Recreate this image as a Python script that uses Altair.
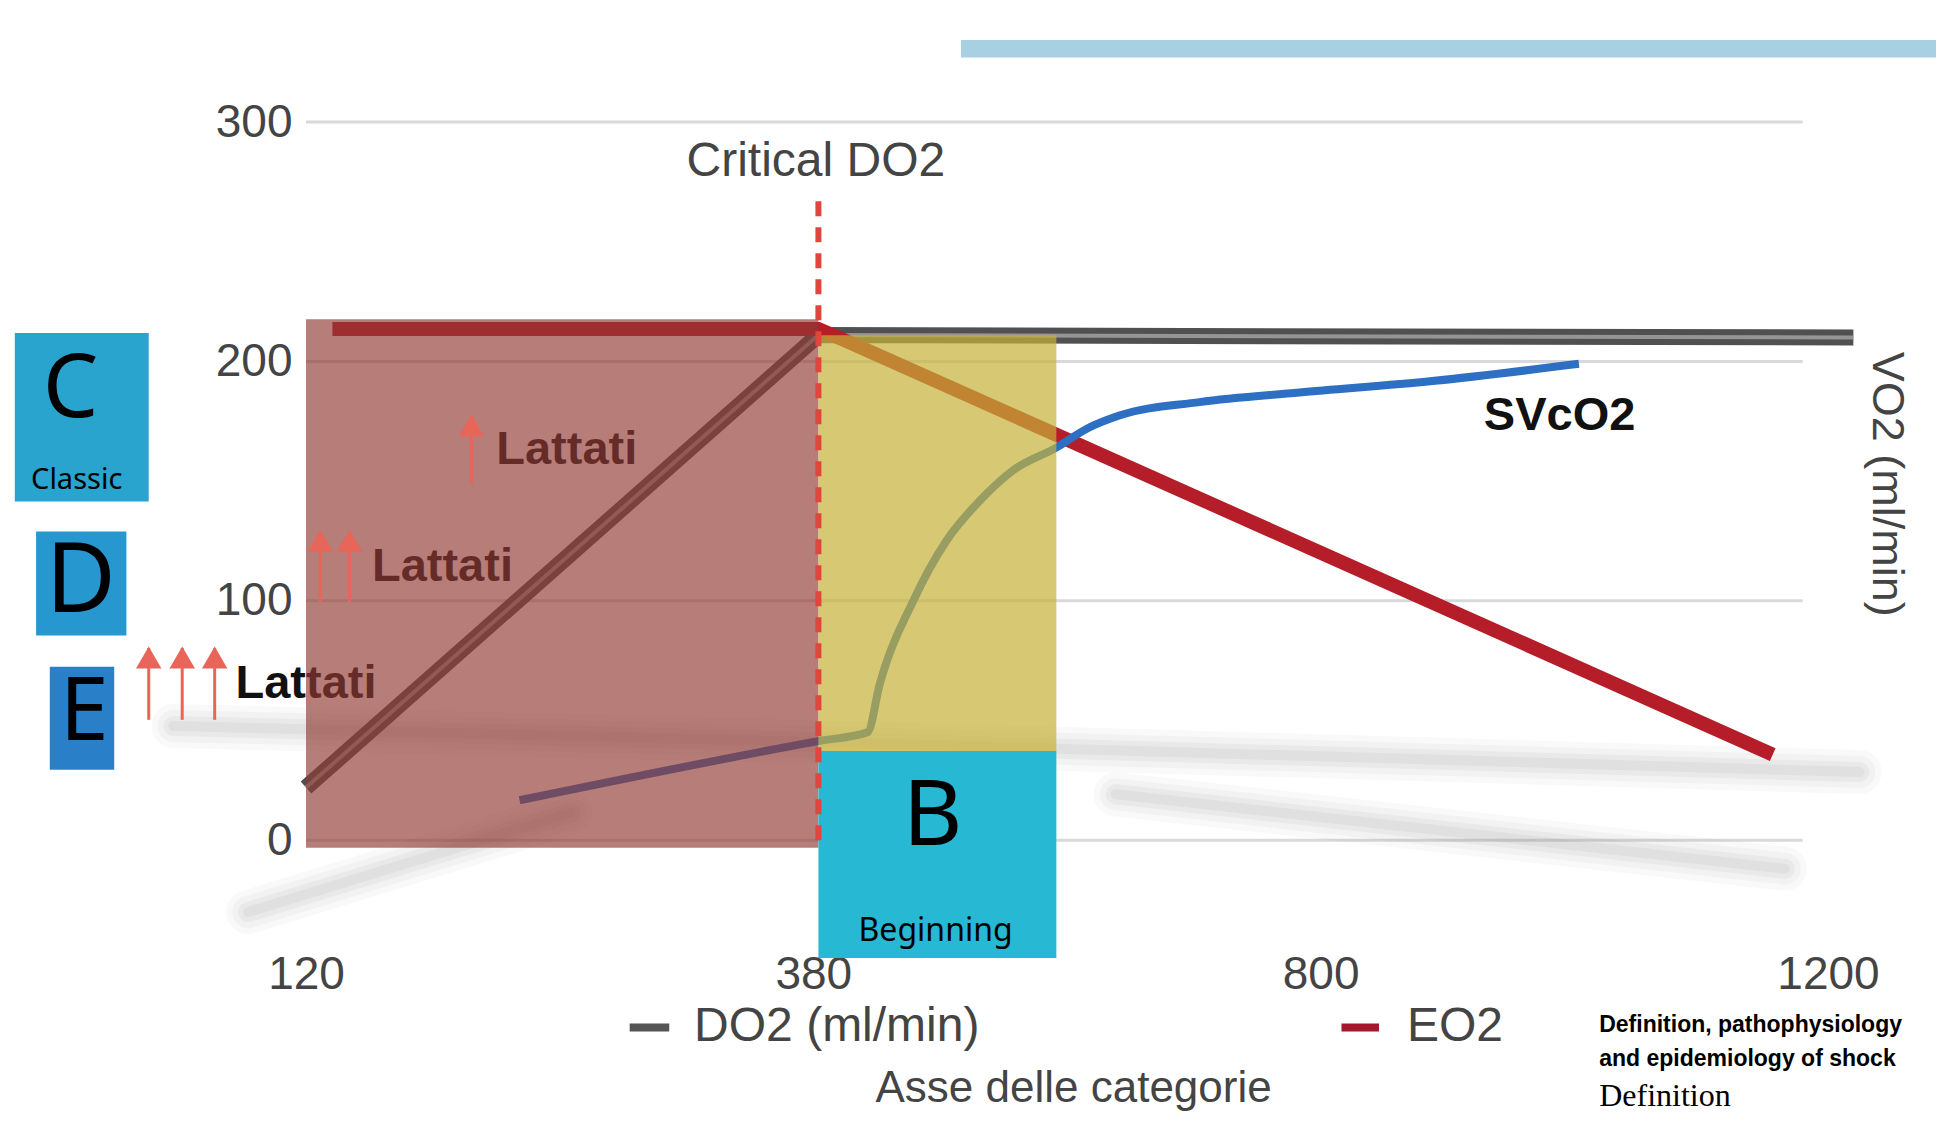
import altair as alt
import pandas as pd

# ---------------- data ----------------
# x positions are category indices; the axis shows the category values
x_categories = ["120", "380", "800", "1200"]
x_index = [0, 1, 2, 3]
y_ticks = [0, 100, 200, 300]

# DO2 (grey) line
do2_x = [0.0, 1.01, 3.05]
do2_y = [22, 211, 210]

# EO2 (red) line
eo2_x = [0.052, 1.01, 1.06, 2.891]
eo2_y = [213.5, 213.5, 209, 35.8]

# SvcO2 (blue) curve
svo2_x = [0.421, 1.012, 1.107, 1.131, 1.197, 1.262, 1.328, 1.393, 1.479,
          1.54, 1.603, 1.761, 1.958, 2.22, 2.509]
svo2_y = [16.7, 41.5, 45.1, 65.3, 100, 125, 141.8, 154.4, 164,
          172, 177.4, 183, 187, 191.8, 199]

# soft shadows (3D picture)
shadow_seg = ["a", "a", "a", "b", "b", "c", "c"]
shadow_x = [-0.261, 1.2, 3.062, 1.596, 2.915, -0.114, 0.521]
shadow_y = [47.7, 40, 28.5, 19.2, -11.9, -30, 11.4]

# critical DO2
critical_x = 1.01
critical_top = 268

# shaded phases
pink_x = [0.0, 1.01]
pink_y = [-3.1, 217.6]
yellow_x = [1.01, 1.479]
yellow_y = [37.3, 210.9]

# label boxes
box_names = ["C", "D", "E", "B"]
box_x1 = [-0.574, -0.532, -0.505, 1.01]
box_x2 = [-0.310, -0.354, -0.378, 1.479]
box_y1 = [141.5, 85.5, 29.5, -49.2]
box_y2 = [211.9, 129, 72.5, 37.3]
box_colors = ["#28a4cf", "#2698cf", "#2a7fc9", "#27b8d3"]
box_letter_x = [-0.464, -0.444, -0.437, 1.235]
box_letter_y = [187.6, 107.3, 52.8, 9.8]
box_sub = ["Classic", "Beginning"]
box_sub_x = [-0.452, 1.241]
box_sub_y = [150.3, -37.8]

# lactate annotations
lattati_x = [0.375, 0.130, -0.139]
lattati_y = [163.2, 114, 65.3]
arrow_x = [0.326, 0.028, 0.086, -0.310, -0.244, -0.180]
arrow_bottom = [148.7, 99.5, 99.5, 50.3, 50.3, 50.3]
arrow_top = [177.2, 129, 129, 80.3, 80.3, 80.3]

# top decorative bar of the slide
bar_x = [1.291, 3.25]
bar_y = [326.9, 334.2]

# legend
legend_labels = ["DO2 (ml/min)", "EO2"]
legend_colors = ["#555555", "#a3182c"]
legend_key_x1 = [0.638, 2.041]
legend_key_x2 = [0.716, 2.115]
legend_text_x = [0.765, 2.170]
legend_y = -78.2

# ---------------- scales / axes ----------------
W, H = 1522, 826
xscale = alt.Scale(domain=[0, 3], nice=False, zero=False)
yscale = alt.Scale(domain=[-45, 300], nice=False, zero=False)
label_expr = "[" + ",".join("'%s'" % c for c in x_categories) + "][datum.value]"
xaxis = alt.Axis(values=x_index, labelExpr=label_expr, domain=False, ticks=False,
                 grid=False, labelFontSize=46, labelColor="#444444",
                 labelFont="Liberation Sans", labelPadding=4, labelFlush=False)
yaxis = alt.Axis(values=y_ticks, domain=False, ticks=False, grid=False,
                 labelFontSize=46, labelColor="#444444", labelFont="Liberation Sans",
                 labelPadding=14)
X = alt.X("x:Q", scale=xscale, axis=xaxis, title="")
Y = alt.Y("y:Q", scale=yscale, axis=yaxis, title="")

FONT = "Liberation Sans"
BOXFONT = "Noto Sans"

# ---------------- layers ----------------
shadow_df = pd.DataFrame({"x": shadow_x, "y": shadow_y, "seg": shadow_seg})
shadow_layers = [
    alt.Chart(shadow_df).mark_line(color="#808080", opacity=op, strokeWidth=sw,
                                   strokeCap="round", strokeJoin="round",
                                   interpolate="monotone").encode(x=X, y=Y, detail="seg:N")
    for sw, op in [(44, 0.05), (32, 0.06), (20, 0.08), (10, 0.08)]
]

grid_df = pd.DataFrame({"y": y_ticks, "x": [0] * 4, "x2": [2.95] * 4})
grid = alt.Chart(grid_df).mark_rule(color="#d9d9d9", strokeWidth=3).encode(
    x=X, x2="x2:Q", y=Y)

bar_df = pd.DataFrame({"x": [bar_x[0]], "x2": [bar_x[1]], "y": [bar_y[0]], "y2": [bar_y[1]]})
topbar = alt.Chart(bar_df).mark_rect(color="#a9cfe2").encode(x=X, x2="x2:Q", y=Y, y2="y2:Q")

do2_df = pd.DataFrame({"x": do2_x, "y": do2_y})
do2_line = alt.Chart(do2_df).mark_line(color="#505050", strokeWidth=16).encode(x=X, y=Y)
do2_hl = alt.Chart(do2_df).mark_line(color="#959595", strokeWidth=4).encode(x=X, y=Y)

eo2_df = pd.DataFrame({"x": eo2_x, "y": eo2_y})
eo2_line = alt.Chart(eo2_df).mark_line(color="#b51d29", strokeWidth=14).encode(x=X, y=Y)

sv_df = pd.DataFrame({"x": svo2_x, "y": svo2_y})
sv_line = alt.Chart(sv_df).mark_line(color="#2d6fc2", strokeWidth=8,
                                     interpolate="monotone").encode(x=X, y=Y)

lat_df = pd.DataFrame({"x": lattati_x, "y": lattati_y, "t": ["Lattati"] * 3})
lattati = alt.Chart(lat_df).mark_text(font=FONT, fontSize=47, fontWeight="bold",
                                      align="left", baseline="middle",
                                      color="#111111").encode(x=X, y=Y, text="t:N")

pink_df = pd.DataFrame({"x": [pink_x[0]], "x2": [pink_x[1]], "y": [pink_y[0]], "y2": [pink_y[1]]})
pink = alt.Chart(pink_df).mark_rect(color="#923a33", opacity=0.66).encode(
    x=X, x2="x2:Q", y=Y, y2="y2:Q")
yel_df = pd.DataFrame({"x": [yellow_x[0]], "x2": [yellow_x[1]], "y": [yellow_y[0]], "y2": [yellow_y[1]]})
yellow = alt.Chart(yel_df).mark_rect(color="#c6b037", opacity=0.7).encode(
    x=X, x2="x2:Q", y=Y, y2="y2:Q")

box_df = pd.DataFrame({"x": box_x1, "x2": box_x2, "y": box_y1, "y2": box_y2,
                       "c": box_colors, "n": box_names})
boxes = alt.Chart(box_df).mark_rect().encode(
    x=X, x2="x2:Q", y=Y, y2="y2:Q", color=alt.Color("c:N", scale=None))

letter_df = pd.DataFrame({"x": box_letter_x, "y": box_letter_y, "t": box_names,
                          "s": [88, 96, 88, 92]})
letters = alt.Chart(letter_df).mark_text(font=BOXFONT, align="center", baseline="middle",
                                         color="#000000").encode(
    x=X, y=Y, text="t:N", size=alt.Size("s:Q", scale=None))
sub_df = pd.DataFrame({"x": box_sub_x, "y": box_sub_y, "t": box_sub, "s": [29, 32]})
subs = alt.Chart(sub_df).mark_text(font=BOXFONT, align="center", baseline="middle",
                                   color="#000000").encode(
    x=X, y=Y, text="t:N", size=alt.Size("s:Q", scale=None))

crit_df = pd.DataFrame({"x": [critical_x], "y": [0], "y2": [critical_top]})
crit = alt.Chart(crit_df).mark_rule(color="#e0463c", strokeWidth=6,
                                    strokeDash=[15, 11]).encode(x=X, y=Y, y2="y2:Q")

arr_df = pd.DataFrame({"x": arrow_x, "y": arrow_bottom, "y2": arrow_top})
shafts = alt.Chart(arr_df).mark_rule(color="#e8655a", strokeWidth=3).encode(x=X, y=Y, y2="y2:Q")
head_df = pd.DataFrame({"x": arrow_x, "y": [t - 4 for t in arrow_top]})
heads = alt.Chart(head_df).mark_point(shape="triangle-up", filled=True, size=650,
                                      color="#e8655a", opacity=1).encode(x=X, y=Y)

def label(text, x, y, size, color="#444444", weight="normal", align="center",
          font=FONT, angle=0):
    df = pd.DataFrame({"x": [x], "y": [y], "t": [text]})
    return alt.Chart(df).mark_text(font=font, fontSize=size, fontWeight=weight,
                                   align=align, baseline="middle", color=color,
                                   angle=angle).encode(x=X, y=Y, text="t:N")

crit_label = label("Critical DO2", 1.005, 283.4, 48)
sv_label = label("SVcO2", 2.471, 177.2, 47, color="#111111", weight="bold")
vo2_title = label("VO2 (ml/min)", 3.116, 148.7, 45, angle=90)
x_title = label("Asse delle categorie", 1.513, -104, 44)
ref1 = label("Definition, pathophysiology", 2.549, -77.2, 23, color="#000000",
             weight="bold", align="left")
ref2 = label("and epidemiology of shock", 2.549, -91.2, 23, color="#000000",
             weight="bold", align="left")
ref3 = label("Definition", 2.549, -107, 32, color="#000000", align="left",
             font="Liberation Serif")

leg_df = pd.DataFrame({"x": legend_key_x1, "x2": legend_key_x2, "y": [legend_y] * 2,
                       "c": legend_colors})
leg_keys = alt.Chart(leg_df).mark_rule(strokeWidth=8).encode(
    x=X, x2="x2:Q", y=Y, color=alt.Color("c:N", scale=None))
legt_df = pd.DataFrame({"x": legend_text_x, "y": [legend_y] * 2, "t": legend_labels})
leg_text = alt.Chart(legt_df).mark_text(font=FONT, fontSize=48, align="left",
                                        baseline="middle", color="#444444").encode(
    x=X, y=Y, text="t:N")

chart = alt.layer(
    grid, *shadow_layers, topbar, do2_line, do2_hl, eo2_line, sv_line, lattati,
    pink, yellow, boxes, letters, subs, crit, shafts, heads,
    crit_label, sv_label, vo2_title, x_title, ref1, ref2, ref3, leg_keys, leg_text
).properties(
    width=W, height=H,
    autosize=alt.AutoSizeParams(type="none"),
    padding={"left": 298, "top": 114, "right": 108, "bottom": 172},
    background="white",
).configure_view(stroke="transparent")

chart.save("out.html", embed_options={"renderer": "svg", "actions": False})
